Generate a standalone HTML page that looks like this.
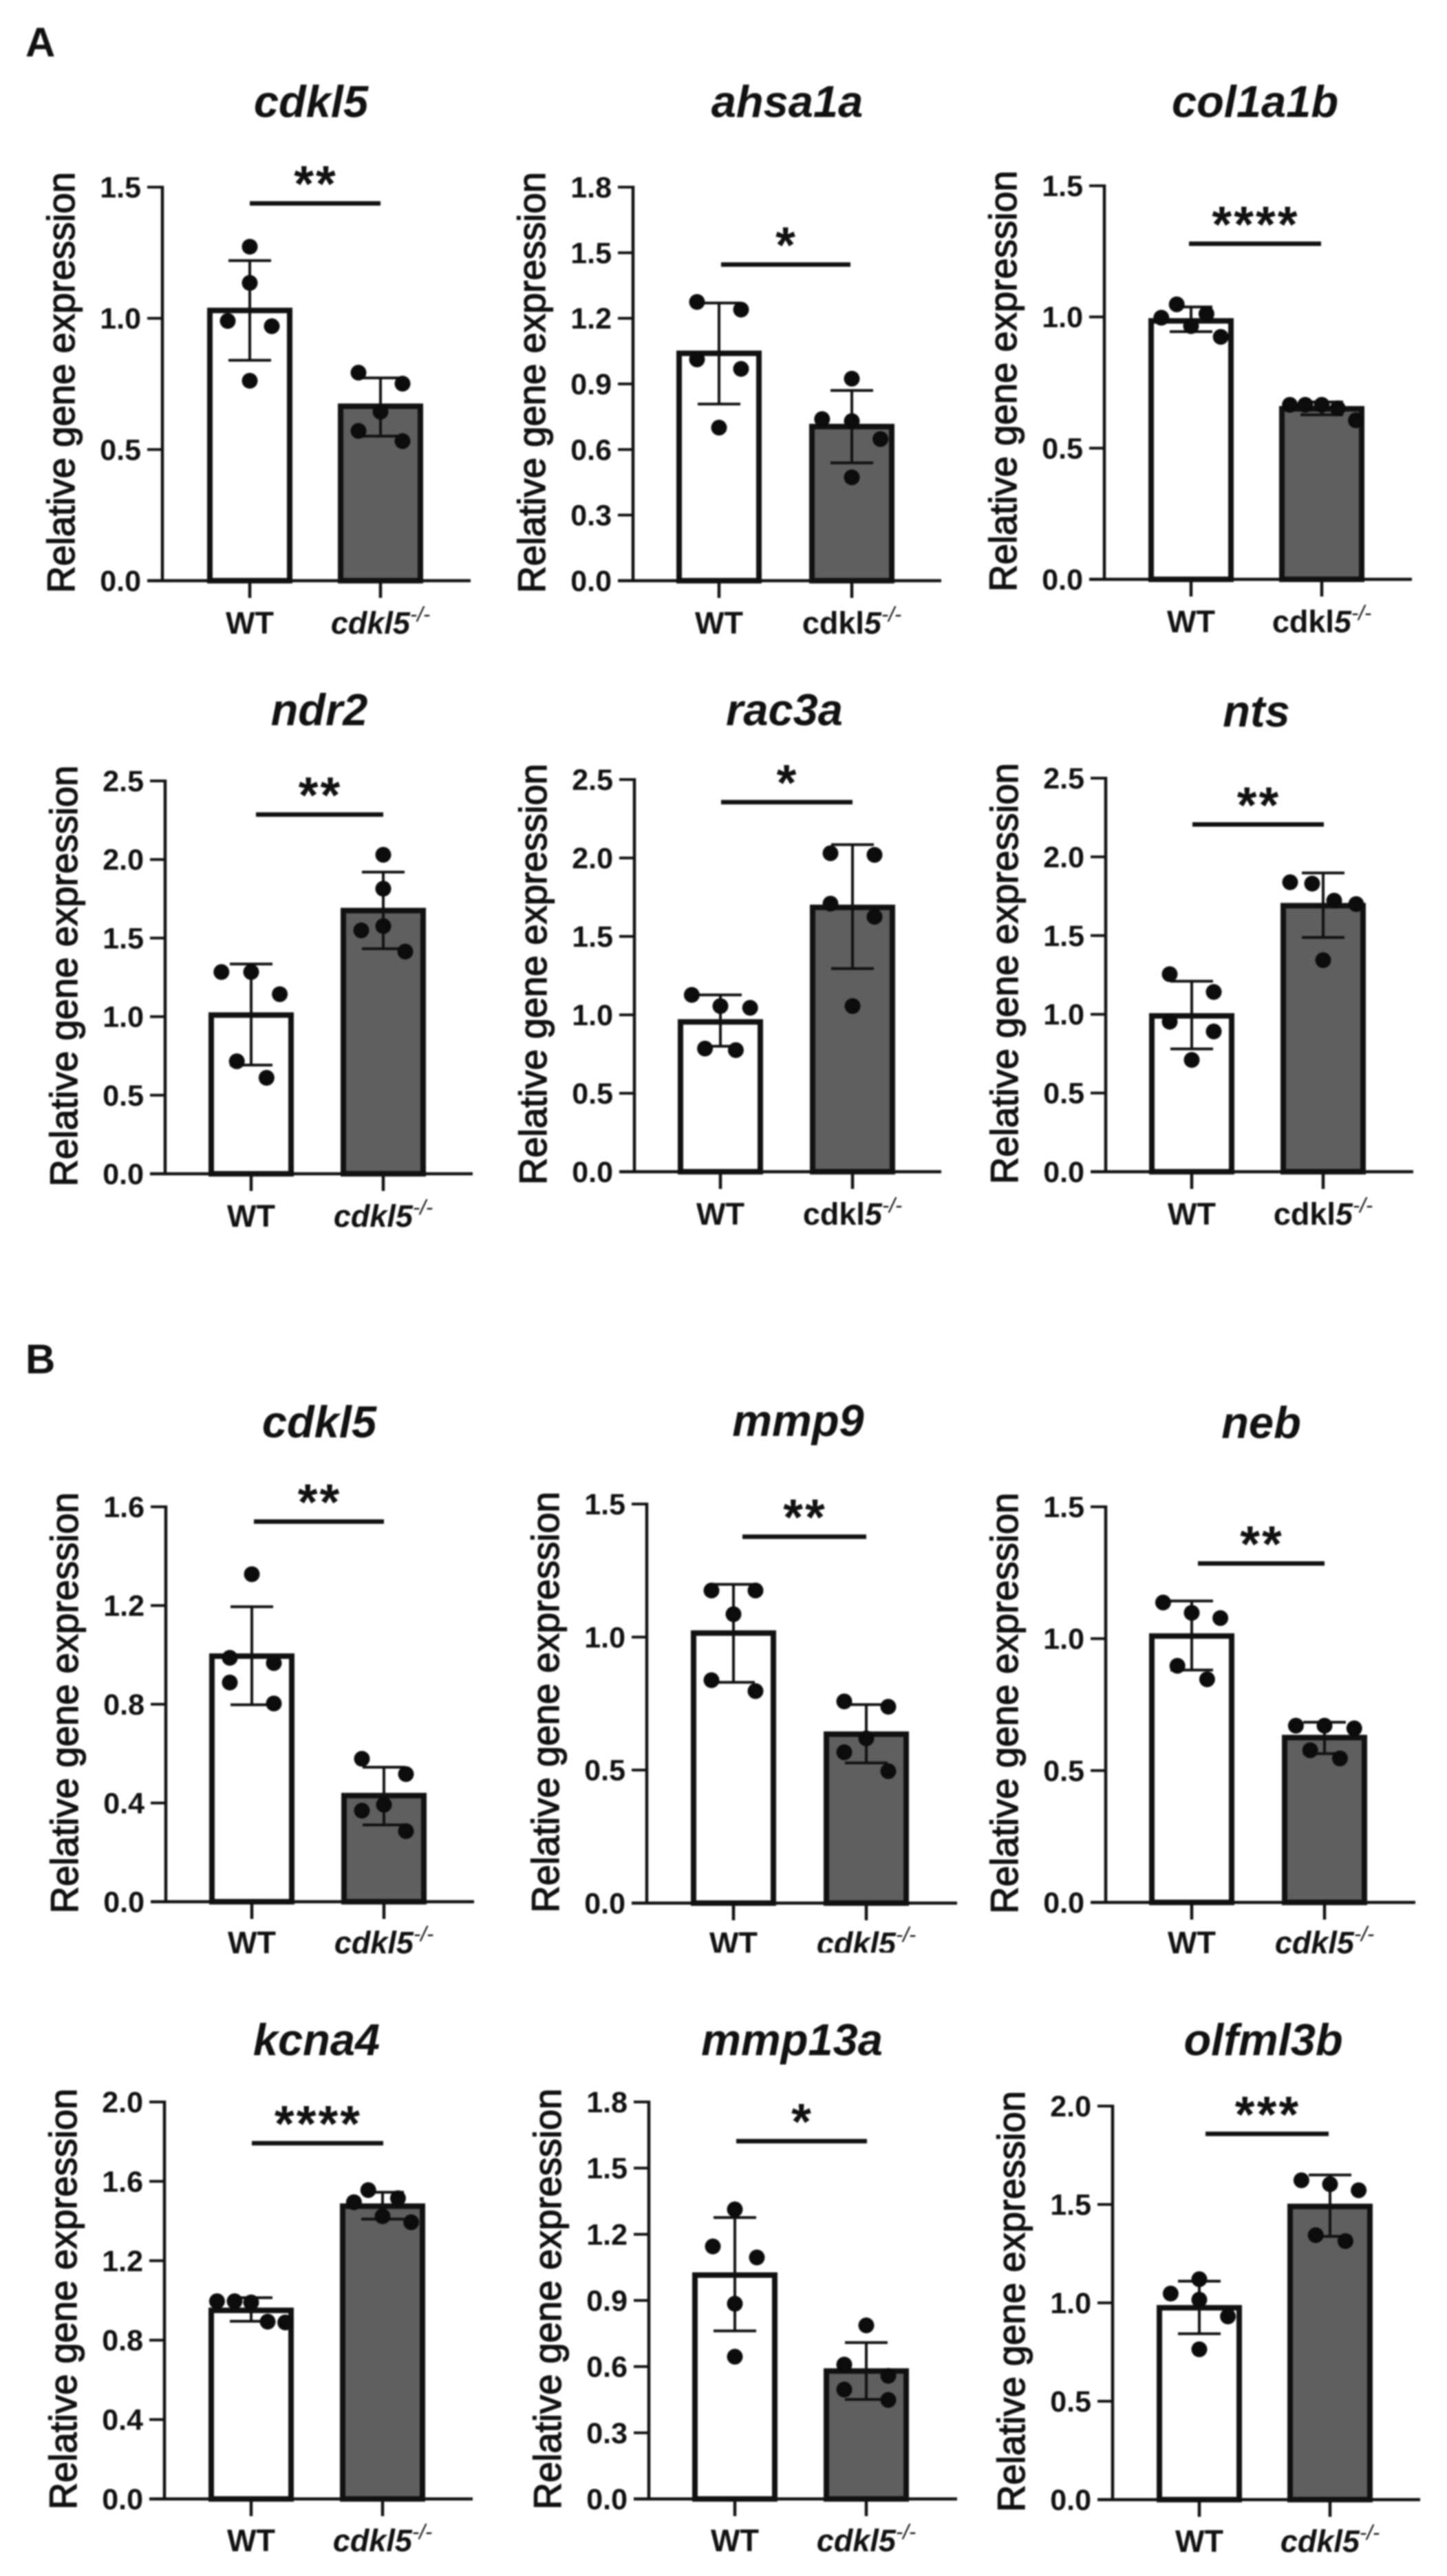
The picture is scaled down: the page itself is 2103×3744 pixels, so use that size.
<!DOCTYPE html>
<html>
<head>
<meta charset="utf-8">
<title>Relative gene expression</title>
<style>
html,body{margin:0;padding:0;background:#fff;}
svg{display:block;filter:blur(1px);}
text{font-family:"Liberation Sans",sans-serif;fill:#111;}
</style>
</head>
<body>
<svg id="figure" xmlns="http://www.w3.org/2000/svg" width="2103" height="3744" viewBox="0 0 2103 3744"></svg>
<script>
// ---- chart data (one entry per panel) ----
const genes = ["cdkl5","ahsa1a","col1a1b","ndr2","rac3a","nts","cdkl5","mmp9","neb","kcna4","mmp13a","olfml3b"];
const categories = ["WT","cdkl5"];
const yTickLabels = [
  ["0.0","0.5","1.0","1.5"],
  ["0.0","0.3","0.6","0.9","1.2","1.5","1.8"],
  ["0.0","0.5","1.0","1.5"],
  ["0.0","0.5","1.0","1.5","2.0","2.5"],
  ["0.0","0.5","1.0","1.5","2.0","2.5"],
  ["0.0","0.5","1.0","1.5","2.0","2.5"],
  ["0.0","0.4","0.8","1.2","1.6"],
  ["0.0","0.5","1.0","1.5"],
  ["0.0","0.5","1.0","1.5"],
  ["0.0","0.4","0.8","1.2","1.6","2.0"],
  ["0.0","0.3","0.6","0.9","1.2","1.5","1.8"],
  ["0.0","0.5","1.0","1.5","2.0"]
];
const wtMeans   = [1.03,1.04,0.985,1.01,0.955,0.99,0.995,1.015,1.01,0.95,1.015,0.975];
const wtErrUp   = [1.22,1.27,1.038,1.335,1.127,1.21,1.195,1.198,1.143,1.014,1.276,1.11];
const wtErrDown = [0.84,0.808,0.944,0.692,0.80,0.78,0.798,0.83,0.881,0.895,0.762,0.843];
const koMeans   = [0.665,0.705,0.65,1.675,1.685,1.69,0.43,0.635,0.625,1.475,0.58,1.49];
const koErrUp   = [0.773,0.87,0.676,1.92,2.085,1.898,0.545,0.746,0.683,1.545,0.709,1.65];
const koErrDown = [0.551,0.539,0.627,1.432,1.295,1.488,0.311,0.527,0.564,1.41,0.451,1.338];
const wtPoints = [
  [1.273,1.135,0.99,0.97,0.762],
  [1.275,1.24,1.012,0.969,0.70],
  [1.048,0.997,1.012,0.965,0.924],
  [1.284,1.284,1.143,0.716,0.611],
  [1.127,1.056,1.045,0.785,0.775],
  [1.255,1.142,0.953,0.891,0.71],
  [1.327,0.988,0.967,0.888,0.803],
  [1.175,1.175,1.086,0.838,0.797],
  [1.137,1.098,1.078,0.897,0.846],
  [0.996,0.996,0.99,0.893,0.889],
  [1.313,1.145,1.095,0.885,0.645],
  [1.12,1.047,1.016,0.931,0.764]
];
const koPoints = [
  [0.793,0.751,0.644,0.571,0.532],
  [0.924,0.739,0.73,0.648,0.473],
  [0.665,0.665,0.665,0.652,0.606],
  [2.03,1.814,1.549,1.576,1.414],
  [2.03,2.02,1.709,1.625,1.056],
  [1.839,1.83,1.722,1.70,1.344],
  [0.579,0.517,0.393,0.369,0.286],
  [0.758,0.738,0.619,0.567,0.496],
  [0.67,0.67,0.66,0.577,0.546],
  [1.495,1.556,1.515,1.424,1.394],
  [0.787,0.609,0.558,0.496,0.449],
  [1.623,1.603,1.572,1.344,1.314]
];
// swarm column of each point (in dot-column units, 0 = bar centre)
const wtSwarm = [
  [0,0,-2,2,0],[-2,2,-2,2,0],[-1.3,-2.7,1.4,0,2.7],[-2.7,0,2.6,-1.3,1.4],
  [-2.6,0,2.7,-1.4,1.4],[-2,2,-2,2,0],[0,-2,2,-2,2],[-2,2,0,-2,2],
  [-2.6,0,2.6,-1.3,1.4],[-3.1,-1.5,0,1.5,3.1],[0,-2,2,0,0],[0,-2.6,0,2.6,0]
];
const koSwarm = [
  [-2,2,0,-2,2],[0,-2.7,0,2.6,0],[-2.9,-1.5,0,1.45,3.1],[0,0,-2,0,2],
  [-2,2,-2,2,0],[-3,-1,1,3,0],[-2,2,0,-2,2],[-2,2,0,-2,2],
  [-2.6,0,2.7,-1.3,1.4],[-2.6,-1.3,1.4,0,2.6],[0,-2,2,-2,2],[-2.6,0,2.6,-1.3,1.4]
];
const sigLevels = [1.438,1.446,1.279,2.286,2.356,2.206,1.54,1.377,1.285,1.792,1.622,1.859];
const sigStars  = ["**","*","****","**","*","**","**","**","**","****","*","***"];
// label style: true = italic "cdkl", false = upright "cdkl"
const koLabelItalic = [true,false,false,true,false,false,true,true,true,true,true,true];

// ---- page layout of each panel frame ----
const axisLefts  = [236,920,1605,240,922,1607,241,940,1607,239,943,1617];
const axisTops   = [272,272,270,1135,1133,1131,2190,2186,2190,3055,3055,3061];
const axisBottoms= [844,844,842,1706,1703,1703,2764,2766,2765,3632,3632,3633];
const axisRights = [684,1368,2052,687,1368,2054,689,1391,2057,687,1391,2064];
const col1Centers= [363,1045,1731,365,1047,1732,366,1066,1732,365,1068,1743];
const col2Centers= [553,1238,1921,557,1239,1923,558,1259,1925,556,1259,1933];
const sigStarts  = [363,1048,1728,372,1048,1733,369,1079,1741,366,1070,1752];
const sigEnds    = [553,1236,1920,557,1239,1924,558,1259,1925,557,1260,1931];
const titleCenters=[452,1144,1824,464,1140,1826,464,1160,1833,460,1151,1836];
const titleBases = [170,170,170,1054,1054,1056,2089,2087,2090,2987,2987,2987];
const labelGaps  = [77,77,77,77,77,77,75,74,74,76,76,76];

const BAR_HALF = 62, BAR_STROKE = 8, CAP_HALF = 31, SWARM_UNIT = 16, DOT_R = 11.5;
const svg = document.getElementById('figure');
const NS = 'http://www.w3.org/2000/svg';
function mk(tag, attrs, parent, txt){
  const el = document.createElementNS(NS, tag);
  for (const k in attrs) el.setAttribute(k, attrs[k]);
  if (txt !== undefined) el.textContent = txt;
  parent.appendChild(el);
  return el;
}
function line(parent, x1, y1, x2, y2, w){
  return mk('line', {x1:x1, y1:y1, x2:x2, y2:y2, stroke:'#111', 'stroke-width':w}, parent);
}

const panelA = mk('text', {x:37, y:82, 'font-size':60, 'font-weight':'bold'}, svg, 'A');


const panelB = mk('text', {x:37, y:1996, 'font-size':60, 'font-weight':'bold'}, svg, 'B');



genes.forEach(function(gene, p){
  const left = axisLefts[p], top = axisTops[p], bottom = axisBottoms[p], right = axisRights[p];
  const ticks = yTickLabels[p];
  const yMax = parseFloat(ticks[ticks.length - 1]);
  const yScale = function(v){ return bottom - (v / yMax) * (bottom - top); };
  const xScale = function(i){ return col1Centers[p] + i * (col2Centers[p] - col1Centers[p]); };

  const g = mk('g', {}, svg);
  
  

  const title = mk('text', {x:titleCenters[p], y:titleBases[p], 'font-size':65, 'font-weight':'bold', 'font-style':'italic', 'text-anchor':'middle'}, g, gene);
  
  

  const yMid = (top + bottom) / 2 - 2, yBase = left - 128;
  const yTitle = mk('text', {x:yBase, y:yMid, 'font-size':56, 'text-anchor':'middle', textLength:612, lengthAdjust:'spacingAndGlyphs', transform:'rotate(-90 ' + yBase + ' ' + yMid + ')', stroke:'#111', 'stroke-width':1.4}, g, 'Relative gene expression');
  
  

  // bars
  const means = [wtMeans[p], koMeans[p]];
  const fills = ['#ffffff', '#5f5f5f'];
  means.forEach(function(m, i){
    const bar = mk('rect', {x:xScale(i) - BAR_HALF + BAR_STROKE / 2, y:yScale(m), width:2 * BAR_HALF - BAR_STROKE, height:bottom - yScale(m), fill:fills[i], stroke:'#111', 'stroke-width':BAR_STROKE}, g);
    
    
  });

  // error bars
  const ups = [wtErrUp[p], koErrUp[p]], downs = [wtErrDown[p], koErrDown[p]];
  ups.forEach(function(u, i){
    const x = xScale(i);
    const err = mk('g', {}, g);
    
    
    line(err, x, yScale(u), x, yScale(downs[i]), 4);
    line(err, x - CAP_HALF, yScale(u), x + CAP_HALF, yScale(u), 4);
    line(err, x - CAP_HALF, yScale(downs[i]), x + CAP_HALF, yScale(downs[i]), 4);
  });

  // points
  [wtPoints[p], koPoints[p]].forEach(function(vals, i){
    const slots = i === 0 ? wtSwarm[p] : koSwarm[p];
    vals.forEach(function(v, k){
      const dot = mk('circle', {cx:xScale(i) + slots[k] * SWARM_UNIT, cy:yScale(v), r:DOT_R, fill:'#0c0c0c'}, g);
      
      
    });
  });

  // axes
  const yAxis = line(g, left, top - 2, left, bottom + 2, 4.5);
  
  
  const xAxis = line(g, left - 22, bottom, right, bottom, 4.5);
  
  

  ticks.forEach(function(lbl){
    const y = yScale(parseFloat(lbl));
    const tick = line(g, left - 22, y, left, y, 4);
    
    
    const tl = mk('text', {x:left - 31, y:y + 15, 'font-size':43, 'font-weight':'bold', 'text-anchor':'end'}, g, lbl);
    
    
  });

  categories.forEach(function(cat, i){
    const x = xScale(i);
    const tick = line(g, x, bottom, x, bottom + 25, 4.5);
    
    
    const lab = mk('text', {x:x, y:bottom + labelGaps[p], 'font-size':45, 'font-weight':'bold', 'text-anchor':'middle'}, g);
    
    
    if (i === 0) {
      lab.textContent = cat;
    } else {
      mk('tspan', {'font-style':koLabelItalic[p] ? 'italic' : 'normal'}, lab, 'cdkl');
      mk('tspan', {'font-style':'italic'}, lab, '5');
      mk('tspan', {'font-style':'italic', 'font-weight':'normal', 'font-size':31, dy:-18}, lab, '-/-');
    }
  });

  // significance bracket
  const sy = yScale(sigLevels[p]);
  const sig = line(g, sigStarts[p], sy, sigEnds[p], sy, 6.5);
  
  
  const star = mk('text', {x:(sigStarts[p] + sigEnds[p]) / 2 + 1, y:sy - 45 + 42, 'font-size':74, 'font-weight':'bold', 'text-anchor':'middle', 'letter-spacing':3}, g, sigStars[p]);
  
  
});

// the mmp9 x labels are cropped along their bottom edge in the figure
const cropStrip = mk('rect', {x:1000, y:2838, width:400, height:14, fill:'#ffffff'}, svg);


</script>
</body>
</html>
